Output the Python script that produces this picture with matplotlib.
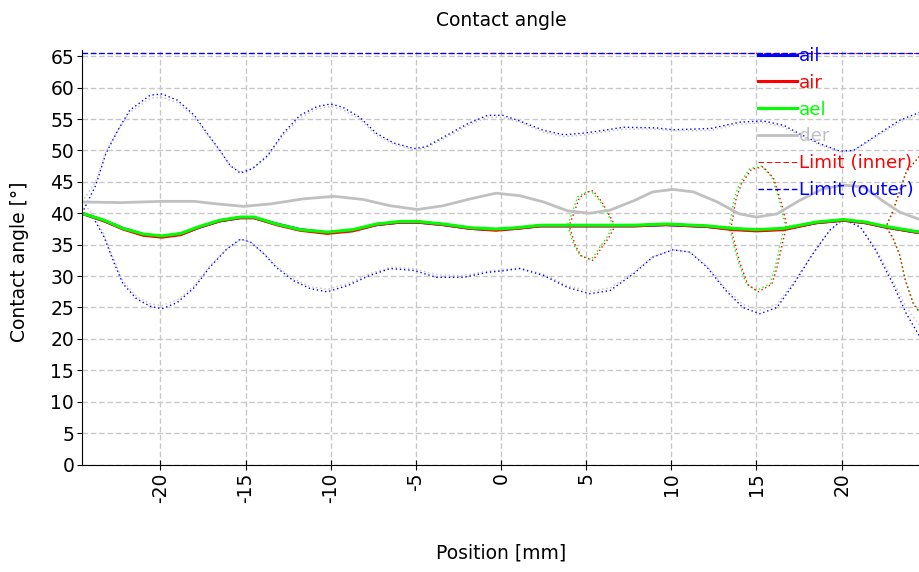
import numpy as np
import matplotlib
matplotlib.use("Agg")
import matplotlib.pyplot as plt

plt.rcParams["axes.unicode_minus"] = False

# solid contact-angle curves
ael_x = [-24.6, -23.3, -22.2, -21.0, -19.9, -18.8, -17.7, -16.5, -15.3, -14.5, -13.2, -11.8,
         -10.2, -8.7, -7.3, -5.9, -4.9, -3.4, -1.8, -0.3, 0.9, 2.3, 3.9, 5.4, 6.6, 7.8, 9.7,
         12.1, 13.6, 15.0, 16.6, 18.5, 20.1, 21.4, 22.6, 24.6]
ael_y = [40.0, 38.9, 37.6, 36.7, 36.4, 36.8, 37.9, 38.9, 39.4, 39.4, 38.3, 37.4,
         37.0, 37.4, 38.3, 38.7, 38.7, 38.3, 37.7, 37.5, 37.7, 38.1, 38.1, 38.1, 38.1, 38.1, 38.3,
         38.0, 37.6, 37.4, 37.6, 38.6, 39.0, 38.6, 37.9, 37.0]
air_y = [40.0, 38.8, 37.5, 36.5, 36.2, 36.6, 37.8, 38.8, 39.3, 39.3, 38.2, 37.3,
         36.8, 37.2, 38.2, 38.6, 38.6, 38.2, 37.6, 37.3, 37.6, 38.0, 38.0, 38.0, 38.0, 38.0, 38.2,
         37.9, 37.4, 37.2, 37.4, 38.5, 38.9, 38.5, 37.8, 36.9]
ail_y = [40.0, 38.8, 37.6, 36.6, 36.3, 36.7, 37.8, 38.8, 39.3, 39.3, 38.3, 37.4,
         36.9, 37.3, 38.2, 38.6, 38.6, 38.2, 37.6, 37.4, 37.6, 38.0, 38.0, 38.0, 38.0, 38.0, 38.2,
         37.9, 37.5, 37.3, 37.5, 38.5, 38.9, 38.5, 37.8, 36.9]

der_x = [-24.6, -22.3, -19.9, -18.0, -16.7, -15.1, -13.5, -11.6, -9.8, -8.1, -6.5, -4.9, -3.4,
         -1.8, -0.3, 1.1, 2.5, 3.9, 5.2, 6.4, 7.8, 8.9, 10.1, 11.3, 12.7, 14.0, 15.0, 16.2,
         17.5, 18.9, 20.1, 21.3, 22.4, 23.4, 24.6]
der_y = [41.8, 41.7, 41.9, 41.9, 41.5, 41.1, 41.5, 42.3, 42.7, 42.2, 41.2, 40.6, 41.2,
         42.3, 43.2, 42.8, 41.8, 40.4, 40.0, 40.5, 42.0, 43.4, 43.8, 43.4, 41.8, 39.9, 39.4, 39.9,
         42.0, 43.9, 44.5, 44.2, 42.0, 40.2, 39.0]

# outer envelopes (dotted): blue for ail, grey for der
hi_x = [-24.6, -23.8, -23.2, -22.5, -21.8, -20.6, -19.9, -19.0, -18.0, -17.3, -16.5, -15.9,
        -15.3, -14.6, -13.7, -12.8, -11.8, -10.8, -10.0, -9.3, -8.3, -7.3, -6.3, -5.1, -4.4,
        -3.2, -2.0, -0.8, 0.1, 1.1, 2.5, 3.7, 5.0, 7.2, 9.1, 10.1, 12.3, 14.0, 15.4, 16.6,
        17.5, 18.7, 19.9, 20.7, 22.2, 23.4, 24.6]
ail_hi = [40.0, 44.4, 49.5, 53.2, 56.4, 58.8, 59.0, 58.0, 55.6, 52.9, 50.0, 47.6,
          46.4, 47.1, 49.2, 52.7, 55.6, 57.0, 57.4, 56.9, 55.3, 52.7, 51.2, 50.3, 50.6,
          52.4, 54.2, 55.6, 55.6, 54.7, 53.2, 52.5, 52.8, 53.7, 53.6, 53.3, 53.5, 54.5, 54.7, 54.0,
          52.7, 51.1, 49.9, 50.0, 52.7, 54.8, 56.1]
der_hi = [41.8, 45.0, 49.8, 53.2, 56.0, 58.3, 58.5, 57.6, 55.3, 52.7, 49.9, 47.6,
          46.6, 47.1, 49.0, 52.4, 55.2, 56.6, 57.0, 56.5, 55.0, 52.4, 51.0, 50.1, 50.4,
          52.1, 53.9, 55.3, 55.3, 54.5, 52.9, 52.2, 52.5, 53.4, 53.4, 53.1, 53.2, 54.2, 54.4, 53.7,
          52.5, 50.9, 49.8, 49.9, 52.5, 54.5, 55.8]

lo_x = [-24.6, -24.0, -23.3, -22.7, -22.2, -21.4, -20.6, -19.9, -19.0, -18.0, -17.1, -16.1,
        -15.3, -14.7, -13.9, -13.2, -12.2, -11.2, -10.2, -9.0, -7.7, -6.5, -5.1, -3.8, -2.2,
        -0.8, 0.0, 1.1, 2.5, 3.9, 5.2, 6.4, 7.8, 8.9, 10.1, 11.1, 12.1, 13.2, 14.2, 15.2,
        16.2, 17.2, 18.3, 19.3, 20.1, 21.1, 22.0, 23.0, 23.8, 24.6]
ail_lo = [40.0, 39.6, 36.2, 32.0, 28.8, 26.4, 25.2, 24.8, 25.8, 28.2, 31.4, 34.3,
          35.9, 35.4, 33.5, 31.4, 29.3, 28.0, 27.5, 28.5, 30.1, 31.2, 30.9, 29.8, 29.8,
          30.6, 30.8, 31.2, 30.1, 28.2, 27.2, 27.7, 30.4, 33.0, 34.2, 33.8, 31.4, 27.7, 25.0, 24.0,
          25.0, 28.8, 33.5, 37.3, 39.1, 37.8, 34.1, 28.8, 24.0, 20.3]
der_lo = [41.8, 40.0, 36.6, 32.4, 29.2, 26.8, 25.6, 25.3, 26.2, 28.5, 31.6, 34.3,
          35.8, 35.4, 33.6, 31.6, 29.6, 28.3, 27.9, 28.8, 30.4, 31.4, 31.2, 30.2, 30.1,
          30.8, 31.0, 31.3, 30.3, 28.5, 27.6, 28.1, 30.6, 33.1, 34.2, 33.8, 31.6, 28.0, 25.5, 24.6,
          25.5, 29.1, 33.6, 37.2, 39.0, 37.8, 34.4, 29.4, 25.0, 22.1]

# inner envelopes (dotted): green for ael, red for air
ael_hi_x = [-24.6, -23.3, -22.2, -21.0, -19.9, -18.8, -17.7, -16.5, -15.3, -14.5, -13.2, -11.8,
            -10.2, -8.7, -7.3, -5.9, -4.9, -3.4, -1.8, -0.3, 0.9, 2.3, 3.9, 4.15, 4.5, 5.0, 5.3,
            5.8, 6.2, 6.6, 7.8, 9.7, 12.1, 13.4, 13.7, 14.0, 14.6, 15.3, 15.9, 16.4, 16.7, 18.5,
            20.1, 21.4, 22.6, 23.0, 23.4, 23.8, 24.6]
ael_hi = [40.0, 38.9, 37.6, 36.7, 36.4, 36.8, 37.9, 38.9, 39.4, 39.4, 38.3, 37.4,
          37.0, 37.4, 38.3, 38.7, 38.7, 38.3, 37.7, 37.5, 37.7, 38.1, 38.1, 39.9, 42.6, 43.4, 43.5,
          42.0, 40.2, 38.1, 38.1, 38.3, 38.0, 37.8, 42.5, 44.7, 47.1, 47.5, 45.8, 41.5, 37.9, 38.6,
          39.0, 38.6, 37.9, 40.4, 43.6, 46.8, 49.0]
ael_lo_x = [-24.6, -23.3, -22.2, -21.0, -19.9, -18.8, -17.7, -16.5, -15.3, -14.5, -13.2, -11.8,
            -10.2, -8.7, -7.3, -5.9, -4.9, -3.4, -1.8, -0.3, 0.9, 2.3, 3.9, 4.25, 4.6, 5.3, 5.8,
            6.2, 6.6, 7.8, 9.7, 12.1, 13.4, 13.9, 14.4, 15.0, 15.8, 16.1, 16.6, 18.5, 20.1, 21.4,
            22.6, 23.0, 23.4, 23.75, 24.2, 24.6]
ael_lo = [40.0, 38.9, 37.6, 36.7, 36.4, 36.8, 37.9, 38.9, 39.4, 39.4, 38.3, 37.4,
          37.0, 37.4, 38.3, 38.7, 38.7, 38.3, 37.7, 37.5, 37.7, 38.1, 38.1, 35.1, 33.4, 32.6, 34.6,
          36.1, 38.1, 38.1, 38.3, 38.0, 37.8, 32.5, 28.8, 27.7, 28.8, 31.4, 37.5, 38.6, 39.0, 38.6,
          37.9, 36.2, 33.5, 29.3, 25.8, 24.3]

air_hi_x = [-24.6, -23.3, -22.2, -21.0, -19.9, -18.8, -17.7, -16.5, -15.3, -14.5, -13.2, -11.8,
            -10.2, -8.7, -7.3, -5.9, -4.9, -3.4, -1.8, -0.3, 0.9, 2.3, 4.0, 4.25, 4.6, 5.1, 5.4,
            5.9, 6.3, 6.7, 7.8, 9.7, 12.1, 13.5, 13.8, 14.1, 14.7, 15.4, 16.0, 16.5, 16.8, 18.5,
            20.1, 21.4, 22.6, 23.0, 23.4, 23.8, 24.6]
air_hi = [40.0, 38.8, 37.5, 36.5, 36.2, 36.6, 37.8, 38.8, 39.3, 39.3, 38.2, 37.3,
          36.8, 37.2, 38.2, 38.6, 38.6, 38.2, 37.6, 37.3, 37.6, 38.0, 38.0, 39.8, 42.5, 43.4, 43.6,
          41.9, 40.0, 38.0, 38.0, 38.2, 37.9, 37.6, 42.3, 44.6, 47.0, 47.4, 45.6, 41.3, 37.7, 38.5,
          38.9, 38.5, 37.8, 40.2, 43.4, 46.6, 49.2]
air_lo_x = [-24.6, -23.3, -22.2, -21.0, -19.9, -18.8, -17.7, -16.5, -15.3, -14.5, -13.2, -11.8,
            -10.2, -8.7, -7.3, -5.9, -4.9, -3.4, -1.8, -0.3, 0.9, 2.3, 4.0, 4.35, 4.7, 5.4, 5.9,
            6.3, 6.7, 7.8, 9.7, 12.1, 13.5, 14.0, 14.5, 15.1, 15.9, 16.2, 16.7, 18.5, 20.1, 21.4,
            22.6, 23.0, 23.4, 23.75, 24.2, 24.6]
air_lo = [40.0, 38.8, 37.5, 36.5, 36.2, 36.6, 37.8, 38.8, 39.3, 39.3, 38.2, 37.3,
          36.8, 37.2, 38.2, 38.6, 38.6, 38.2, 37.6, 37.3, 37.6, 38.0, 38.0, 35.0, 33.2, 32.5, 34.5,
          36.0, 38.0, 38.0, 38.2, 37.9, 37.6, 32.3, 28.6, 27.5, 28.7, 31.3, 37.3, 38.5, 38.9, 38.5,
          37.8, 36.1, 33.4, 29.2, 25.6, 24.1]

limit_x = [-24.6, 24.6]
limit_inner = [65.6, 65.6]
limit_outer = [65.6, 65.6]

BLUE, RED, GREEN, GREY = "#0000ff", "#ff0000", "#00ff00", "#c0c0c0"
dot = (0, (1, 2))
FS = 13.5

fig = plt.figure(figsize=(9.2, 5.72), dpi=100)
ax = fig.add_axes([82/920, 107.5/572, 838/920, 414.5/572])

ax.plot(lo_x, der_lo, color=GREY, lw=1.0, ls=dot)
ax.plot(hi_x, der_hi, color=GREY, lw=1.0, ls=dot)
ax.plot(lo_x, ail_lo, color=BLUE, lw=1.0, ls=dot)
ax.plot(hi_x, ail_hi, color=BLUE, lw=1.0, ls=dot)
ax.plot(ael_hi_x, ael_hi, color=GREEN, lw=1.0, ls=dot)
ax.plot(ael_lo_x, ael_lo, color=GREEN, lw=1.0, ls=dot)
ax.plot(air_hi_x, air_hi, color=RED, lw=1.0, ls=dot)
ax.plot(air_lo_x, air_lo, color=RED, lw=1.0, ls=dot)

l_ail, = ax.plot(ael_x, ail_y, color=BLUE, lw=2.2, label="ail")
l_air, = ax.plot(ael_x, air_y, color=RED, lw=2.2, label="air")
l_ael, = ax.plot(ael_x, ael_y, color=GREEN, lw=2.2, label="ael")
l_der, = ax.plot(der_x, der_y, color=GREY, lw=2.0, label="der")
# inner limit sits exactly under the (wider) outer one so it stays hidden
l_in, = ax.plot(limit_x, limit_inner, color=RED, lw=0.7, ls=(0, (5.7, 2.85)),
                snap=True, label="Limit (inner)")
l_out, = ax.plot(limit_x, limit_outer, color=BLUE, lw=1.0, ls=(0, (4, 2)),
                 snap=True, label="Limit (outer)")

ax.set_xlim(-24.6, 24.6)
ax.set_ylim(0, 66)
ax.set_xticks(np.arange(-20, 21, 5))
ax.set_yticks(np.arange(0, 66, 5))
ax.tick_params(axis="x", direction="inout", length=7.2, labelsize=FS, labelrotation=90, pad=2)
ax.tick_params(axis="y", direction="out", length=3.6, labelsize=FS, pad=2)
ax.grid(True, color="#c8c8c8", ls=(0, (4, 2)), lw=1.0)
ax.set_axisbelow(True)
for s in ("top", "right"):
    ax.spines[s].set_visible(False)

fig.text(501/920, 1 - 20/572, "Contact angle", ha="center", va="center", fontsize=FS)
fig.text(501/920, 1 - 553/572, "Position [mm]", ha="center", va="center", fontsize=FS)
fig.text(20/920, 1 - 262/572, "Contact angle [°]", ha="center", va="center",
         rotation=90, fontsize=FS)

ax.legend(handles=[l_ail, l_air, l_ael, l_der, l_in, l_out], loc="upper left",
          bbox_to_anchor=(758/920, 1 - 47/572), bbox_transform=fig.transFigure,
          frameon=False, fontsize=13.2, labelcolor="linecolor", borderpad=0,
          borderaxespad=0, handlelength=2.15, handletextpad=0.1, labelspacing=0.48)

fig.savefig("out.png", dpi=100)
